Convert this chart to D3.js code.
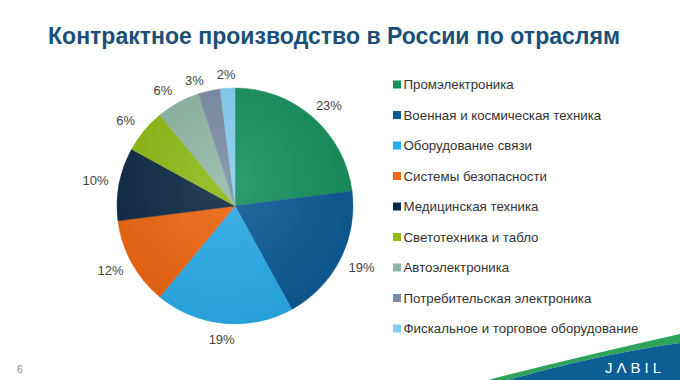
<!DOCTYPE html>
<html>
<head>
<meta charset="utf-8">
<script src="https://cdn.jsdelivr.net/npm/d3@7"></script>
<style>
  body { margin:0; background:#fff; }
  text { font-family: "Liberation Sans", Arial, sans-serif; }
</style>
</head>
<body>
<svg width="680" height="380"></svg>
<script>
// data
var sectors = ["Промэлектроника", "Военная и космическая техника", "Оборудование связи",
  "Системы безопасности", "Медицинская техника", "Светотехника и табло",
  "Автоэлектроника", "Потребительская электроника", "Фискальное и торговое оборудование"];
var shares = [23, 19, 19, 12, 10, 6, 6, 3, 2];
var colors = ["#16915e", "#0b5b97", "#29acea", "#f0650f", "#0b2845", "#8dba14", "#8fb8a6", "#7b8ca6", "#86cdf2"];

var svg = d3.select("svg");

// title
svg.append("text")
  .attr("x", 48).attr("y", 44)
  .attr("textLength", 572)
  .attr("lengthAdjust", "spacingAndGlyphs")
  .style("font-weight", "bold")
  .style("font-size", "24px")
  .attr("fill", "#1b4f78")
  .text("Контрактное производство в России по отраслям");

var cx = 235, cy = 206, r = 118;
var data = sectors.map(function(s, i) { return {name: s, value: shares[i], color: colors[i]}; });

var pie = d3.pie().sort(null).value(function(d) { return d.value; });
var arc = d3.arc().innerRadius(0).outerRadius(r);

var defs = svg.append("defs");
var grad = defs.append("radialGradient").attr("id", "shade")
  .attr("cx", "45%").attr("cy", "40%").attr("r", "65%");
grad.append("stop").attr("offset", "0%").attr("stop-color", "#fff").attr("stop-opacity", 0.12);
grad.append("stop").attr("offset", "100%").attr("stop-color", "#000").attr("stop-opacity", 0.08);

var g = svg.append("g").attr("transform", "translate(" + cx + "," + cy + ")");
var slices = pie(data);

g.selectAll("path.slice")
  .data(slices)
  .enter()
  .append("path")
  .attr("class", "slice")
  .attr("d", arc)
  .attr("fill", function(d) { return d.data.color; })
  .attr("stroke", function(d) { return d.data.color; })
  .attr("stroke-width", 0.5);

g.append("circle").attr("r", r).attr("fill", "url(#shade)");

// "outside end" labels: box just outside the rim, then nudge crowded ones
var gap = 11, bw = 26, bh = 11, pad = 5;
var labelPos = function(a) {
  var s = Math.sin(a), c = -Math.cos(a);
  var top = c < -0.9 ? 3 : 0; // labels right above the pie sit a bit lower
  return [s * (r + gap) + s * bw / 2, c * (r + gap) + c * bh / 2 + top];
};
var labels = slices.map(function(d) {
  var a = (d.startAngle + d.endAngle) / 2;
  return {d: d, a: a, p: labelPos(a)};
});
for (var i = labels.length - 2; i >= 0; i--) {
  var k = 0;
  while (k < 200 &&
         Math.abs(labels[i].p[0] - labels[i + 1].p[0]) < bw + pad &&
         Math.abs(labels[i].p[1] - labels[i + 1].p[1]) < bh + pad) {
    labels[i].a -= 0.005;
    labels[i].p = labelPos(labels[i].a);
    k++;
  }
}

g.selectAll("text.pct")
  .data(labels)
  .enter()
  .append("text")
  .attr("class", "pct")
  .attr("x", function(d) { return d.p[0]; })
  .attr("y", function(d) { return d.p[1] + 4.5; })
  .attr("text-anchor", "middle")
  .style("font-size", "13px")
  .attr("fill", "#444")
  .text(function(d) { return d.d.data.value + "%"; });

// legend
var legend = svg.append("g").attr("transform", "translate(393,89)");
var rows = legend.selectAll("g")
  .data(data)
  .enter()
  .append("g")
  .attr("transform", function(d, i) { return "translate(0," + (i * 30.5) + ")"; });
rows.append("rect")
  .attr("x", 0).attr("y", -8.5)
  .attr("width", 8).attr("height", 8)
  .attr("fill", function(d) { return d.color; });
rows.append("text")
  .attr("x", 10.5).attr("y", 0)
  .style("font-size", "13.3px")
  .attr("fill", "#333")
  .text(function(d) { return d.name; });

// footer
svg.append("text").attr("x", 17).attr("y", 373)
  .style("font-size", "10px").attr("fill", "#888").text("6");

svg.append("path")
  .attr("d", "M488,380 Q565,360 680,334 L680,343 Q600,354 508,380 Z")
  .attr("fill", "#2ea35c");
svg.append("path")
  .attr("d", "M508,380 Q600,354 680,343 L680,380 Z")
  .attr("fill", "#0b5f95");
svg.append("text").attr("x", 665).attr("y", 373)
  .attr("text-anchor", "end")
  .style("font-size", "15px")
  .style("letter-spacing", "4px")
  .attr("fill", "#fff").text("JΛBIL");
</script>
</body>
</html>
